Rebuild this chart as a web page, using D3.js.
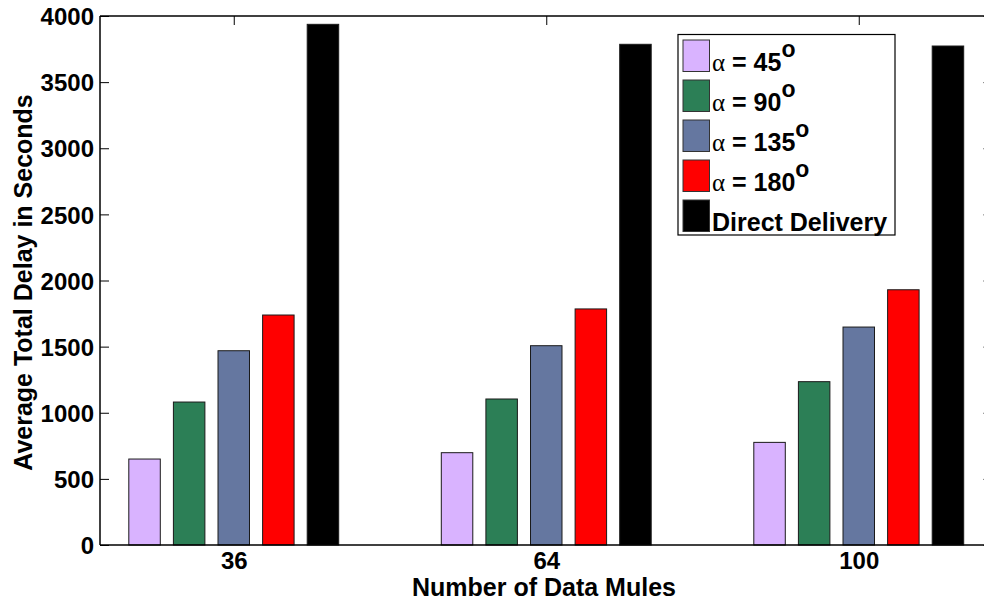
<!DOCTYPE html>
<html>
<head>
<meta charset="utf-8">
<script src="https://cdn.jsdelivr.net/npm/d3@7"></script>
<style>
  html, body { margin: 0; padding: 0; background: #fff; }
  svg { display: block; font-family: "Liberation Sans", Arial, Helvetica, sans-serif; }
</style>
</head>
<body>
<svg id="chart" width="984" height="600"></svg>
<script>
// ---- data ----
const categories = ["36", "64", "100"];
const seriesKeys = ["a45", "a90", "a135", "a180", "direct"];
const seriesAngles = ["45", "90", "135", "180", null];
const seriesColors = ["#d9b3ff", "#2c7f56", "#6577a0", "#ff0000", "#000000"];
const alpha45  = [650, 698, 776];
const alpha90  = [1081, 1104, 1235];
const alpha135 = [1469, 1507, 1648];
const alpha180 = [1739, 1785, 1930];
const direct   = [3937, 3786, 3773];
const yTicks = [0, 500, 1000, 1500, 2000, 2500, 3000, 3500, 4000];
const xLabel = "Number of Data Mules";
const yLabel = "Average Total Delay in Seconds";
const directLabel = "Direct Delivery";

const seriesValues = [alpha45, alpha90, alpha135, alpha180, direct];

// ---- layout ----
const L = 100, R = 992.5, T = 16, B = 545;
const svg = d3.select("#chart");

const y = d3.scaleLinear().domain([0, 4000]).range([B, T]);
const x = d3.scalePoint().domain(categories).range([L, R]).padding(0.428);
const sub = d3.scaleBand().domain(seriesKeys).range([-104.95, 104.95]).paddingInner(0.294).paddingOuter(0);

// bars
const rows = [];
categories.forEach((c, ci) => {
  seriesKeys.forEach((k, si) => {
    rows.push({ cat: c, key: k, value: seriesValues[si][ci], color: seriesColors[si] });
  });
});

svg.append("g").selectAll("rect").data(rows).join("rect")
  .attr("x", d => x(d.cat) + sub(d.key))
  .attr("y", d => y(d.value))
  .attr("width", sub.bandwidth())
  .attr("height", d => y(0) - y(d.value))
  .attr("fill", d => d.color)
  .attr("stroke", "#1a1a1a")
  .attr("stroke-width", 1);

// axes frame lines
const frame = svg.append("g").attr("stroke", "#000").attr("stroke-width", 1.5).attr("fill", "none");
frame.append("line").attr("x1", L).attr("x2", L).attr("y1", T).attr("y2", B);
frame.append("line").attr("x1", L).attr("x2", R).attr("y1", B).attr("y2", B);
frame.append("line").attr("x1", L).attr("x2", R).attr("y1", T).attr("y2", T);
frame.append("line").attr("x1", R).attr("x2", R).attr("y1", T).attr("y2", B);

// left y axis
const yAxis = d3.axisLeft(y).tickValues(yTicks).tickSize(-9).tickPadding(6).tickFormat(d3.format("d"));
const gy = svg.append("g").attr("transform", `translate(${L},0)`).call(yAxis);
gy.select(".domain").remove();
gy.selectAll(".tick line").attr("stroke", "#000").attr("stroke-width", 1);
gy.selectAll(".tick text")
  .attr("font-size", 24).attr("font-weight", "bold").attr("fill", "#000")
  .attr("font-family", "Liberation Sans, Arial, sans-serif").attr("dy", "0.36em");

// right y axis ticks (mirror)
const yAxisR = d3.axisRight(y).tickValues(yTicks).tickSize(-9).tickFormat("");
const gyr = svg.append("g").attr("transform", `translate(${R},0)`).call(yAxisR);
gyr.select(".domain").remove();
gyr.selectAll(".tick line").attr("stroke", "#000").attr("stroke-width", 1);

// bottom x axis
const xAxis = d3.axisBottom(x).tickSize(0).tickPadding(10);
const gx = svg.append("g").attr("transform", `translate(0,${B})`).call(xAxis);
gx.select(".domain").remove();
gx.selectAll(".tick text")
  .attr("font-size", 24).attr("font-weight", "bold").attr("fill", "#000")
  .attr("font-family", "Liberation Sans, Arial, sans-serif")
  .attr("y", 23.5).attr("dy", 0);

// top ticks (mirror)
const xAxisT = d3.axisTop(x).tickSize(-9).tickFormat("");
const gxt = svg.append("g").attr("transform", `translate(0,${T})`).call(xAxisT);
gxt.select(".domain").remove();
gxt.selectAll(".tick line").attr("stroke", "#000").attr("stroke-width", 1);

// axis labels
svg.append("text")
  .attr("x", 544).attr("y", 595.5)
  .attr("text-anchor", "middle")
  .attr("font-size", 25).attr("font-weight", "bold")
  .text(xLabel);

svg.append("text")
  .attr("transform", `translate(32,${(T + B) / 2 + 2}) rotate(-90)`)
  .attr("text-anchor", "middle")
  .attr("font-size", 25).attr("font-weight", "bold")
  .text(yLabel);

// legend
const lg = svg.append("g");
lg.append("rect")
  .attr("x", 678).attr("y", 34.5).attr("width", 217).attr("height", 200.5)
  .attr("fill", "#fff").attr("stroke", "#000").attr("stroke-width", 1.2);

const rowY = d3.scaleLinear().domain([0, 4]).range([40, 200]);
seriesKeys.forEach((k, i) => {
  const y0 = rowY(i);
  lg.append("rect")
    .attr("x", 683).attr("y", y0).attr("width", 26.5).attr("height", 31.5)
    .attr("fill", seriesColors[i]).attr("stroke", "#333").attr("stroke-width", 1);
  const t = lg.append("text")
    .attr("x", 712).attr("y", y0 + 30.5)
    .attr("font-size", 25).attr("font-weight", "bold").attr("fill", "#000");
  if (seriesAngles[i] !== null) {
    t.append("tspan").attr("font-family", "Liberation Serif, serif").attr("font-weight", "normal").text("α");
    t.append("tspan").text(" = " + seriesAngles[i]);
    t.append("tspan").attr("dy", -14).attr("font-size", 23).text("o");
  } else {
    t.text(directLabel);
  }
});
</script>
</body>
</html>
